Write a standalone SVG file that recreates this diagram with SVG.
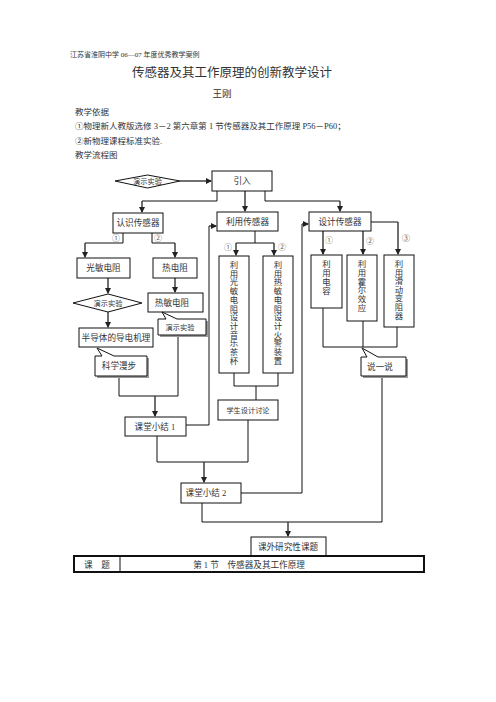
<svg xmlns="http://www.w3.org/2000/svg" width="496" height="702" viewBox="0 0 496 702">
<defs>
<marker id="ah" markerWidth="6" markerHeight="6" refX="5" refY="3" orient="auto" markerUnits="userSpaceOnUse">
<path d="M0,0 L6,3 L0,6 Z" fill="#222"/>
</marker>
</defs>
<style>
text{font-family:"Liberation Serif","Noto Sans CJK SC",serif;fill:#333}
.b{fill:#fff;stroke:#111;stroke-width:1}
.t{font-size:8.6px;text-anchor:middle}
.s{font-size:7.2px;text-anchor:middle}
.n{font-size:8px;fill:#666}
.c line,.c polyline{fill:none;stroke:#111;stroke-width:1}
.a{marker-end:url(#ah);stroke:#333!important;stroke-width:1.4!important}
.sh{fill:#999;stroke:none}
.v{font-size:8.4px;text-anchor:middle}
</style>
<rect width="496" height="702" fill="#fff"/>

<g id="header">
<text x="70" y="57" style="font-size:7px">江苏省淮阴中学 06—07 年度优秀教学案例</text>
<text x="232" y="77" style="font-size:12.5px;text-anchor:middle">传感器及其工作原理的创新教学设计</text>
<text x="222" y="97" style="font-size:9.5px;text-anchor:middle">王刚</text>
<text x="75" y="115" style="font-size:8.5px">教学依据</text>
<text x="75" y="129" style="font-size:8.5px">①物理新人教版选修 3－2 第六章第 1 节传感器及其工作原理 P56－P60；</text>
<text x="75" y="144" style="font-size:8.5px">②新物理课程标准实验.</text>
<text x="75" y="158" style="font-size:8.5px">教学流程图</text>
</g>

<g id="connectors" class="c">
<line class="a" x1="180" y1="181" x2="211" y2="181"/>
<line class="a" x1="245" y1="191" x2="245" y2="211"/>
<polyline points="217,191 217,201 142,201"/>
<line class="a" x1="142" y1="201" x2="142" y2="212"/>
<polyline points="265,191 265,201 340,201"/>
<line class="a" x1="340" y1="201" x2="340" y2="211"/>
<polyline points="123,233 123,243 85,243"/>
<line class="a" x1="85" y1="243" x2="85" y2="257"/>
<polyline points="152,233 152,243 175,243"/>
<line class="a" x1="175" y1="243" x2="175" y2="257"/>
<line class="a" x1="108" y1="278" x2="108" y2="293"/>
<line class="a" x1="108" y1="312" x2="108" y2="327"/>
<line class="a" x1="175" y1="278" x2="175" y2="292"/>
<polyline points="119,377 119,396 178,396 178,336"/>
<line class="a" x1="155" y1="396" x2="155" y2="416"/>
<polyline points="186,425 209,425 209,226"/>
<line class="a" x1="209" y1="226" x2="216" y2="226"/>
<polyline points="255,231 255,243 236,243"/>
<line class="a" x1="236" y1="243" x2="236" y2="255"/>
<polyline points="255,243 274,243"/>
<line class="a" x1="274" y1="243" x2="274" y2="255"/>
<polyline points="234,373 234,386 278,386 278,373"/>
<line x1="256" y1="386" x2="256" y2="400"/>
<line class="a" x1="323" y1="231" x2="323" y2="254"/>
<line class="a" x1="363" y1="231" x2="363" y2="254"/>
<polyline points="371,222 398,222"/>
<line class="a" x1="398" y1="222" x2="398" y2="254"/>
<polyline points="323,308 323,347 397,347 397,327"/>
<line x1="363" y1="321" x2="363" y2="347"/>
<polyline points="157,436 157,462 248,462 248,420"/>
<line class="a" x1="204" y1="462" x2="204" y2="482"/>
<polyline points="241,493 302,493 302,224"/>
<line class="a" x1="302" y1="224" x2="308" y2="224"/>
<polyline points="202,503 202,522 382,522 382,377"/>
<line class="a" x1="288" y1="522" x2="288" y2="536"/>
</g>

<g id="demo1">
<polygon class="b" points="115,181 147.5,175 180,181 147.5,188"/>
<text class="s" x="147.5" y="184">演示实验</text>
</g>
<g id="yinru"><rect class="b" x="212" y="171" width="60" height="20"/><text class="t" x="242" y="184">引入</text></g>
<g id="renshi"><rect class="b" x="113" y="213" width="50" height="20"/><text class="t" x="138" y="226">认识传感器</text></g>
<g id="liyong"><rect class="b" x="217" y="212" width="61" height="19"/><text class="t" x="247.5" y="224.5">利用传感器</text></g>
<g id="sheji"><rect class="b" x="309" y="212" width="62" height="19"/><text class="t" x="340" y="224.5">设计传感器</text></g>

<g id="labels">
<text class="n" x="112" y="241">①</text>
<text class="n" x="154" y="241">②</text>
<text class="n" x="224" y="250">①</text>
<text class="n" x="278" y="250">②</text>
<text class="n" x="325" y="243">①</text>
<text class="n" x="366" y="244">②</text>
<text class="n" x="402" y="241">③</text>
</g>

<g id="guangmin"><rect class="b" x="77" y="258" width="53" height="20"/><text class="t" x="103.5" y="271">光敏电阻</text></g>
<g id="redianzu"><rect class="b" x="153" y="258" width="44" height="20"/><text class="t" x="175" y="271">热电阻</text></g>
<g id="demo2">
<polygon class="b" points="73,303 108,294 142,303 108,312"/>
<text class="s" x="108" y="306">演示实验</text>
</g>
<g id="remin"><rect class="b" x="148" y="293" width="55" height="19"/><text class="t" x="172" y="306">热敏电阻</text></g>
<g id="bandaoti"><rect class="b" x="79" y="328" width="74" height="19"/><text class="t" x="116" y="341">半导体的导电机理</text></g>

<g id="demo3">
<path class="sh" d="M160,321 L208,321 L208,337 L160,337 Z"/>
<path class="b" d="M158,319 L166,319 L162,312 L177,319 L206,319 L206,335 L158,335 Z"/>
<text class="s" x="180" y="330">演示实验</text>
</g>
<g id="kexue">
<path class="sh" d="M97,358 L149,358 L149,378 L97,378 Z"/>
<path class="b" d="M95,356 L102,356 L97,348 L114,356 L147,356 L147,376 L95,376 Z"/>
<text class="t" x="119" y="369">科学漫步</text>
</g>
<g id="shuoyishuo">
<path class="sh" d="M363,359 L408,359 L408,378 L363,378 Z"/>
<path class="b" d="M361,357 L367,357 L362,348 L378,357 L406,357 L406,376 L361,376 Z"/>
<text class="t" x="380" y="370">说一说</text>
</g>

<g id="v1"><rect class="b" x="219" y="256" width="30" height="117"/>
<text class="v"><tspan x="234" y="268">利</tspan><tspan x="234" dy="8.7">用</tspan><tspan x="234" dy="8.7">光</tspan><tspan x="234" dy="8.7">敏</tspan><tspan x="234" dy="8.7">电</tspan><tspan x="234" dy="8.7">阻</tspan><tspan x="234" dy="8.7">设</tspan><tspan x="234" dy="8.7">计</tspan><tspan x="234" dy="8.7">音</tspan><tspan x="234" dy="8.7">乐</tspan><tspan x="234" dy="8.7">茶</tspan><tspan x="234" dy="8.7">杯</tspan></text></g>
<g id="v2"><rect class="b" x="263" y="256" width="30" height="117"/>
<text class="v"><tspan x="278" y="268">利</tspan><tspan x="278" dy="8.7">用</tspan><tspan x="278" dy="8.7">热</tspan><tspan x="278" dy="8.7">敏</tspan><tspan x="278" dy="8.7">电</tspan><tspan x="278" dy="8.7">阻</tspan><tspan x="278" dy="8.7">设</tspan><tspan x="278" dy="8.7">计</tspan><tspan x="278" dy="8.7">火</tspan><tspan x="278" dy="8.7">警</tspan><tspan x="278" dy="8.7">装</tspan><tspan x="278" dy="8.7">置</tspan></text></g>
<g id="v3"><rect class="b" x="311" y="255" width="31" height="53"/>
<text class="v"><tspan x="326.5" y="267">利</tspan><tspan x="326.5" dy="9">用</tspan><tspan x="326.5" dy="9">电</tspan><tspan x="326.5" dy="9">容</tspan></text></g>
<g id="v4"><rect class="b" x="347" y="255" width="30" height="66"/>
<text class="v"><tspan x="362" y="267">利</tspan><tspan x="362" dy="8.8">用</tspan><tspan x="362" dy="8.8">霍</tspan><tspan x="362" dy="8.8">尔</tspan><tspan x="362" dy="8.8">效</tspan><tspan x="362" dy="8.8">应</tspan></text></g>
<g id="v5"><rect class="b" x="384" y="255" width="30" height="72"/>
<text class="v"><tspan x="399" y="267">利</tspan><tspan x="399" dy="8.6">用</tspan><tspan x="399" dy="8.6">滑</tspan><tspan x="399" dy="8.6">动</tspan><tspan x="399" dy="8.6">变</tspan><tspan x="399" dy="8.6">阻</tspan><tspan x="399" dy="8.6">器</tspan></text></g>

<g id="taolun"><rect class="b" x="218" y="400" width="60" height="20"/><text class="s" x="248" y="413">学生设计讨论</text></g>
<g id="xiaojie1"><rect class="b" x="125" y="417" width="61" height="19"/><text class="t" x="155" y="430">课堂小结 1</text></g>
<g id="xiaojie2"><rect class="b" x="181" y="483" width="60" height="20"/><text class="t" x="206" y="496">课堂小结 2</text></g>
<g id="kewai"><rect class="b" x="251" y="537" width="75" height="19"/><text class="t" x="288" y="550">课外研究性课题</text></g>

<g id="table">
<rect x="74" y="556" width="350" height="16" fill="none" stroke="#111" stroke-width="2"/>
<line x1="120" y1="556" x2="120" y2="572" stroke="#111" stroke-width="1"/>
<text class="t" x="97" y="567.5">课　题</text>
<text class="t" x="249" y="567.5">第 1 节　传感器及其工作原理</text>
</g>
</svg>
